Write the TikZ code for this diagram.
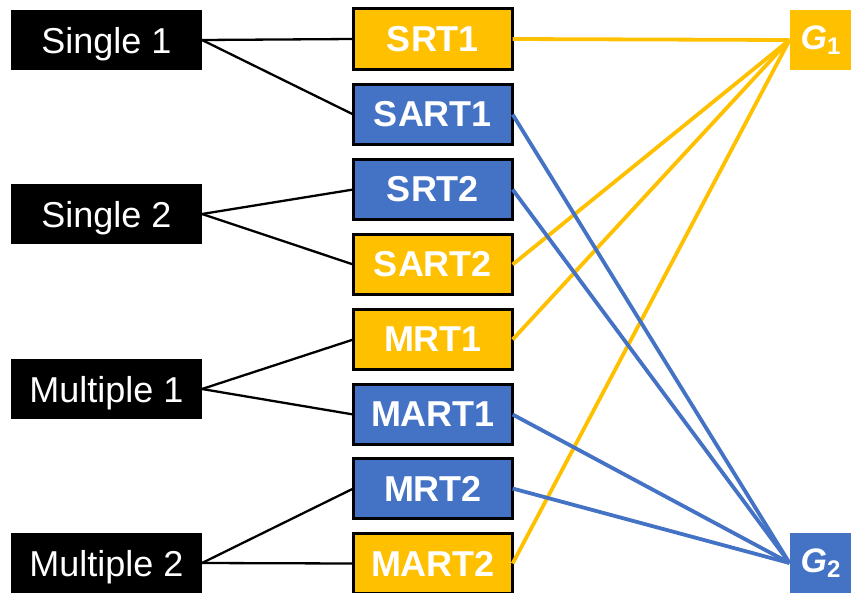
\documentclass[tikz,border=0pt]{standalone}
\usepackage{fontspec}
\setmainfont{Liberation Sans}
\definecolor{gold}{HTML}{FFC000}
\definecolor{steel}{HTML}{4472C4}
\begin{document}
\begin{tikzpicture}[x=1pt,y=-1pt,
  srcbox/.style={fill=black,text=white,minimum width=191pt,minimum height=60pt,inner sep=0pt,outer sep=0pt,text height=26pt,text depth=0pt,font=\fontsize{36}{40}\selectfont},
  midbox/.style={draw=black,line width=2.7pt,text=white,minimum width=159.3pt,minimum height=60.5pt,inner sep=0pt,outer sep=0pt,font=\bfseries\fontsize{36}{40}\selectfont},
  ybox/.style={midbox,fill=gold},
  bbox/.style={midbox,fill=steel},
  gbox/.style={text=white,minimum width=62pt,minimum height=60pt,inner sep=0pt,outer sep=0pt,font=\bfseries\fontsize{34}{38}\selectfont},
  blk/.style={draw=black,line width=2.3pt},
  yl/.style={draw=gold,line width=3.8pt},
  bl/.style={draw=steel,line width=3.8pt}]
\useasboundingbox (0,0) rectangle (851,592);
% left
\node[srcbox] (s1) at (106.5,40) {Single 1};
\node[srcbox] (s2) at (106.5,214) {Single 2};
\node[srcbox] (m1) at (106.5,389) {Multiple 1};
\node[srcbox] (m2) at (106.5,563) {Multiple 2};
% middle
\node[ybox] (srt1) at (433,39) {SRT1};
\node[bbox] (sart1) at (433,114.5) {SART1};
\node[bbox] (srt2) at (433,189.5) {SRT2};
\node[ybox] (sart2) at (433,264.5) {SART2};
\node[ybox] (mrt1) at (433,339.5) {MRT1};
\node[bbox] (mart1) at (433,414.5) {MART1};
\node[bbox] (mrt2) at (433,488.5) {MRT2};
\node[ybox] (mart2) at (433,563.5) {MART2};
% right
\node[gbox,fill=gold] (g1) at (820.5,40) {\textit{G}\raisebox{-0.25ex}{\fontsize{24}{26}\selectfont 1}};
\node[gbox,fill=steel] (g2) at (820.5,563) {\textit{G}\raisebox{-0.25ex}{\fontsize{24}{26}\selectfont 2}};
% black connectors
\draw[blk] (s1.east) -- (srt1.west);
\draw[blk] (s1.east) -- (sart1.west);
\draw[blk] (s2.east) -- (srt2.west);
\draw[blk] (s2.east) -- (sart2.west);
\draw[blk] (m1.east) -- (mrt1.west);
\draw[blk] (m1.east) -- (mart1.west);
\draw[blk] (m2.east) -- (mrt2.west);
\draw[blk] (m2.east) -- (mart2.west);
% yellow connectors
\draw[yl] (srt1.east) -- (g1.west);
\draw[yl] (sart2.east) -- (g1.west);
\draw[yl] (mrt1.east) -- (g1.west);
\draw[yl] (mart2.east) -- (g1.west);
% blue connectors
\draw[bl] (sart1.east) -- (g2.west);
\draw[bl] (srt2.east) -- (g2.west);
\draw[bl] (mart1.east) -- (g2.west);
\draw[bl] (mrt2.east) -- (g2.west);
\end{tikzpicture}
\end{document}
